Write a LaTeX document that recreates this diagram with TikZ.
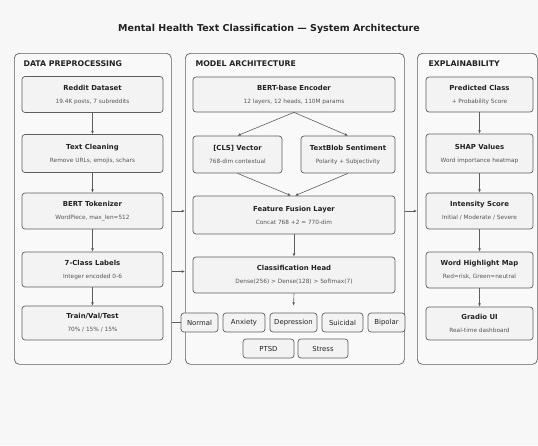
\documentclass[tikz,border=0pt]{standalone}
\usepackage{fontspec}
\setmainfont{DejaVu Sans}
\usetikzlibrary{arrows.meta, positioning}

\definecolor{bgc}{HTML}{F7F7F7}
\definecolor{panelc}{HTML}{F9F9F9}
\definecolor{boxc}{HTML}{F3F3F3}
\definecolor{edgec}{HTML}{5E5E5E}
\definecolor{inkc}{HTML}{222222}
\definecolor{subc}{HTML}{555555}

\newcommand{\stagetext}[2]{{\fontsize{6.9}{7}\selectfont\bfseries #1}\\[1pt]{\fontsize{5.8}{6}\selectfont\color{subc}#2}}

\tikzset{
  panel/.style={draw=edgec, line width=0.7pt, rounded corners=5pt, fill=panelc, anchor=north west, inner sep=0pt},
  stagebox/.style={draw=edgec, line width=0.7pt, rounded corners=3pt, fill=boxc, align=center, text=inkc, minimum height=36pt, inner sep=0pt},
  chip/.style={draw=edgec, line width=0.7pt, rounded corners=3pt, fill=boxc, text=inkc, minimum height=19pt, inner sep=0pt, font=\fontsize{6.9}{7}\selectfont},
  flow/.style={-{Latex[length=3.2pt,width=2.8pt]}, draw=edgec, line width=0.6pt},
  panelhead/.style={anchor=west, text=inkc, font=\fontsize{7.8}{8}\selectfont\bfseries}
}

\begin{document}
\begin{tikzpicture}[x=1pt, y=-1pt]
  \fill[bgc] (0,0) rectangle (538,445);
  \useasboundingbox (0,0) rectangle (538,445);

  \node[text=inkc, font=\fontsize{9.5}{10}\selectfont\bfseries] (title) at (269,29) {Mental Health Text Classification — System Architecture};

  \node[panel, minimum width=157pt, minimum height=311pt] (pre) at (14,53) {};
  \node[panel, minimum width=219pt, minimum height=311pt] (arch) at (185,53) {};
  \node[panel, minimum width=120pt, minimum height=311pt] (expl) at (417,53) {};

  \node[panelhead] (prehead) at (20,64) {DATA PREPROCESSING};
  \node[panelhead] (archhead) at (192,64) {MODEL ARCHITECTURE};
  \node[panelhead] (explhead) at (425,64) {EXPLAINABILITY};

  % data preprocessing
  \node[stagebox, minimum width=141pt] (reddit) at (92.5,94.5) {\stagetext{Reddit Dataset}{19.4K posts, 7 subreddits}};
  \node[stagebox, minimum width=141pt, minimum height=38pt] (clean) at (92.5,153.5) {\stagetext{Text Cleaning}{Remove URLs, emojis, schars}};
  \node[stagebox, minimum width=141pt] (tok) at (92.5,211) {\stagetext{BERT Tokenizer}{WordPiece, max\_len=512}};
  \node[stagebox, minimum width=141pt, minimum height=35pt] (labels) at (92.5,269.5) {\stagetext{7-Class Labels}{Integer encoded 0-6}};
  \node[stagebox, minimum width=141pt, minimum height=34pt] (split) at (92.5,323) {\stagetext{Train/Val/Test}{70\% / 15\% / 15\%}};

  % model architecture
  \node[stagebox, minimum width=202pt, minimum height=35pt] (bert) at (294,94.5) {\stagetext{BERT-base Encoder}{12 layers, 12 heads, 110M params}};
  \node[stagebox, minimum width=89pt, minimum height=37pt] (cls) at (237.5,154.5) {\stagetext{[CLS] Vector}{768-dim contextual}};
  \node[stagebox, minimum width=94pt, minimum height=37pt] (blob) at (348,154.5) {\stagetext{TextBlob Sentiment}{Polarity + Subjectivity}};
  \node[stagebox, minimum width=202pt, minimum height=38pt] (fusion) at (294,215) {\stagetext{Feature Fusion Layer}{Concat 768 +2 = 770-dim}};
  \node[stagebox, minimum width=202pt] (clshead) at (294,275) {\stagetext{Classification Head}{Dense(256) > Dense(128) > Softmax(7)}};

  \node[chip, minimum width=37pt] (normal) at (199.5,322.5) {Normal};
  \node[chip, minimum width=42pt] (anx) at (244,322.5) {Anxiety};
  \node[chip, minimum width=47pt] (dep) at (293.5,322.5) {Depression};
  \node[chip, minimum width=41pt] (sui) at (342.5,322.5) {Suicidal};
  \node[chip, minimum width=37pt] (bip) at (386.5,322.5) {Bipolar};
  \node[chip, minimum width=51pt] (ptsd) at (268.5,348.5) {PTSD};
  \node[chip, minimum width=50pt] (stress) at (323,348.5) {Stress};

  % explainability
  \node[stagebox, minimum width=107pt, minimum height=35pt] (pred) at (479.5,94.5) {\stagetext{Predicted Class}{+ Probability Score}};
  \node[stagebox, minimum width=107pt, minimum height=39pt] (shap) at (479.5,153.5) {\stagetext{SHAP Values}{Word importance heatmap}};
  \node[stagebox, minimum width=107pt] (inten) at (479.5,211) {\stagetext{Intensity Score}{Initial / Moderate / Severe}};
  \node[stagebox, minimum width=107pt] (wmap) at (479.5,270) {\stagetext{Word Highlight Map}{Red=risk, Green=neutral}};
  \node[stagebox, minimum width=107pt, minimum height=33pt] (gradio) at (479.5,323.5) {\stagetext{Gradio UI}{Real-time dashboard}};

  \draw[flow] (reddit) -- (clean);
  \draw[flow] (clean) -- (tok);
  \draw[flow] (tok) -- (labels);
  \draw[flow] (labels) -- (split);

  \draw[flow] (bert.south) -- (cls.north);
  \draw[flow] (bert.south) -- (blob.north);
  \draw[flow] (cls.south) -- ([xshift=-3pt]fusion.north);
  \draw[flow] (blob.south) -- ([xshift=1pt]fusion.north);
  \draw[flow] (fusion) -- (clshead);
  \draw[flow] (clshead.south) -- ([yshift=7pt]dep.north);

  \draw[flow] (pred) -- (shap);
  \draw[flow] (shap) -- (inten);
  \draw[flow] (inten) -- (wmap);
  \draw[flow] (wmap) -- (gradio);

  \draw[flow] (pre.east |- tok) -- (arch.west |- tok);
  \draw[flow] ([yshift=-2pt]pre.east |- labels) -- ([yshift=-2pt]arch.west |- labels);
  \draw[draw=edgec, line width=0.6pt] (pre.east |- normal) -- (normal.west);
  \draw[flow] (arch.east |- inten) -- (expl.west |- inten);
\end{tikzpicture}
\end{document}
